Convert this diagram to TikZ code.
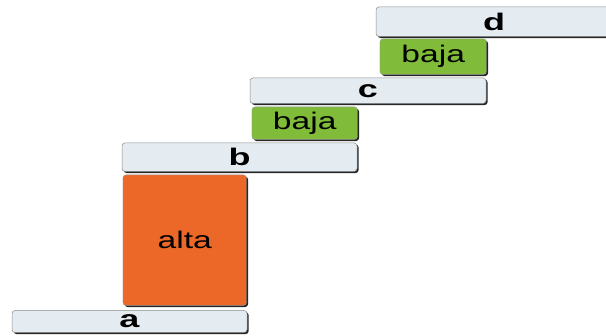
\documentclass[tikz,border=0pt]{standalone}
\usepackage{fontspec}
\usetikzlibrary{shadows}
\newfontfamily\stepfont[FakeStretch=1.4]{Liberation Sans}
\newfontfamily\barlabelfont[FakeStretch=1.5]{Liberation Sans Bold}
\definecolor{barfill}{RGB}{228,236,242}
\definecolor{barline}{RGB}{140,140,140}
\definecolor{highstep}{RGB}{236,104,40}
\definecolor{lowstep}{RGB}{128,188,58}
\tikzset{
  base/.style={rectangle, rounded corners=3pt, inner sep=0pt, outer sep=0pt,
    drop shadow={shadow xshift=1.6pt, shadow yshift=-1.6pt, fill=black!85, opacity=1}},
  bar/.style={base, fill=barfill, draw=barline, line width=0.5pt,
    font=\barlabelfont\fontsize{24}{24}\selectfont},
  stepbox/.style={base, draw=black!40, line width=0.4pt,
    font=\stepfont\fontsize{24}{24}\selectfont}
}
\begin{document}
\begin{tikzpicture}[x=1pt,y=-1pt]
  \useasboundingbox (0,0) rectangle (606,336);
  % time bars
  \node[bar, minimum width=235pt, minimum height=22pt] (a) at (129.5,321.5) {a};
  \node[bar, minimum width=235pt, minimum height=28.5pt] (b) at (239.5,157.2) {b};
  \node[bar, minimum width=236pt, minimum height=25.5pt] (c) at (368,90.7) {c};
  \node[bar, minimum width=236pt, minimum height=29.5pt] (d) at (494,21.7) {d};
  % level steps between the bars
  \node[stepbox, fill=highstep, minimum width=123.5pt, minimum height=130.5pt] (alta) at (184.7,240.2) {alta};
  \node[stepbox, fill=lowstep, minimum width=105.5pt, minimum height=32.5pt] (baja1) at (304.7,123.2) {baja};
  \node[stepbox, fill=lowstep, minimum width=106.5pt, minimum height=35.5pt] (baja2) at (433.2,56.7) {baja};
\end{tikzpicture}
\end{document}
